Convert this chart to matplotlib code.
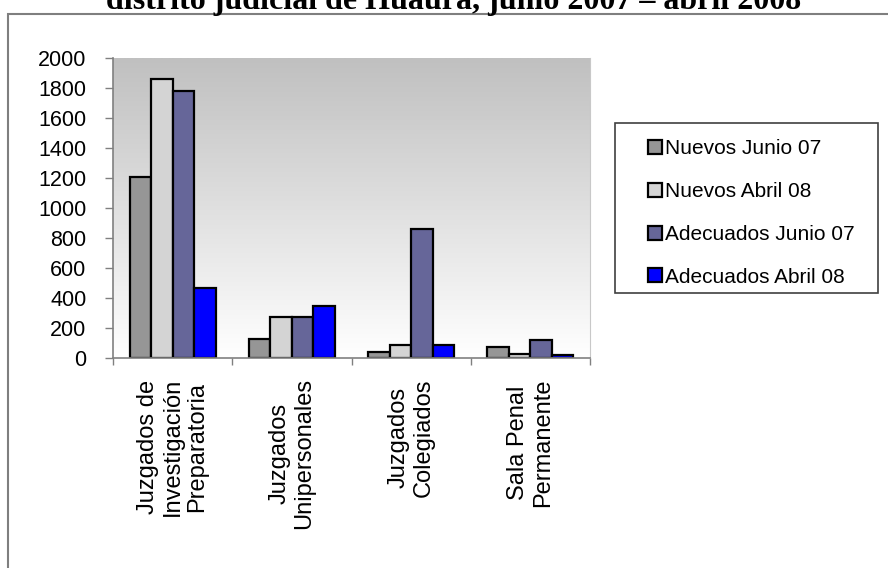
import numpy as np
import matplotlib
matplotlib.use("Agg")
import matplotlib.pyplot as plt
from matplotlib.colors import LinearSegmentedColormap
from matplotlib.patches import Rectangle

# Data
categories = [
    "Juzgados de\nInvestigación\nPreparatoria",
    "Juzgados\nUnipersonales",
    "Juzgados\nColegiados",
    "Sala Penal\nPermanente",
]
series_names = ["Nuevos Junio 07", "Nuevos Abril 08", "Adecuados Junio 07", "Adecuados Abril 08"]
nuevos_junio_07 = [1210, 130, 38, 75]
nuevos_abril_08 = [1860, 275, 87, 27]
adecuados_junio_07 = [1780, 275, 858, 120]
adecuados_abril_08 = [465, 345, 87, 18]
y_ticks = list(range(0, 2001, 200))

series_values = [nuevos_junio_07, nuevos_abril_08, adecuados_junio_07, adecuados_abril_08]
colors = ["#969696", "#d4d4d4", "#666699", "#0000ff"]

plt.rcParams["font.family"] = ["Liberation Sans", "DejaVu Sans"]

W, H = 888, 568
fig = plt.figure(figsize=(W / 100, H / 100), dpi=100)
fig.patch.set_facecolor("white")

# Outer chart frame (runs off the right and bottom edges)
fig.add_artist(Rectangle((8 / W, -0.05), 1.2, 1 - 14 / H + 0.05,
                         transform=fig.transFigure, fill=False,
                         edgecolor="#7f7f7f", linewidth=1.5))

# Title, partly cut by the top edge
fig.text(454 / W, 1 - 9.5 / H, "distrito judicial de Huaura, junio 2007 – abril 2008",
         ha="center", va="baseline", fontsize=23, fontweight="bold",
         family=["Liberation Serif", "DejaVu Serif"])

left, right, top, bottom = 113, 590, 58, 358
ax = fig.add_axes([left / W, 1 - bottom / H, (right - left) / W, (bottom - top) / H])

# Gradient plot area
cmap = LinearSegmentedColormap.from_list("bg", ["#c0c0c0", "#ffffff"])
ax.imshow(np.linspace(0, 1, 256).reshape(-1, 1), extent=[-0.5, 3.5, 0, 2000],
          aspect="auto", cmap=cmap, zorder=0, interpolation="bilinear")

x = np.arange(len(categories))
bw = 0.18
for i, (name, vals, c) in enumerate(zip(series_names, series_values, colors)):
    ax.bar(x + (i - 1.5) * bw, vals, width=bw, color=c, edgecolor="black",
           linewidth=1.6, label=name, zorder=2)

ax.set_xlim(-0.5, 3.5)
ax.set_ylim(0, 2000)
ax.set_yticks(y_ticks)
ax.set_yticklabels([str(v) for v in y_ticks], fontsize=15.5)

# Category labels centred, ticks on the group boundaries
ax.set_xticks(x)
ax.set_xticklabels(categories, rotation=90, fontsize=17, multialignment="center",
                   linespacing=1.15)
ax.tick_params(axis="x", which="major", length=0, pad=14.5)
ax.set_xticks(np.arange(-0.5, 3.6, 1.0), minor=True)
ax.tick_params(axis="x", which="minor", length=5, color="#808080", width=1)
ax.tick_params(axis="y", length=6, color="#808080", width=1, pad=13)

ax.spines["top"].set_visible(False)
ax.spines["right"].set_color("#c8c8c8")
ax.spines["left"].set_color("#808080")
ax.spines["bottom"].set_color("#808080")
ax.spines["left"].set_linewidth(1.2)
ax.spines["bottom"].set_linewidth(1.2)

# Legend with its own box
fig.add_artist(Rectangle((615 / W, 1 - 293 / H), (878 - 615) / W, (293 - 123) / H,
                         transform=fig.transFigure, fill=True, facecolor="white",
                         edgecolor="#404040", linewidth=1.2))
handles, labels = ax.get_legend_handles_labels()
fig.legend(handles, labels, loc="center left", bbox_to_anchor=(648 / W, 1 - 213 / H),
           frameon=False, fontsize=15, handlelength=0.65, handleheight=0.65,
           handletextpad=0.15, labelspacing=1.14, borderpad=0, borderaxespad=0)

fig.savefig("out.png", dpi=100)
